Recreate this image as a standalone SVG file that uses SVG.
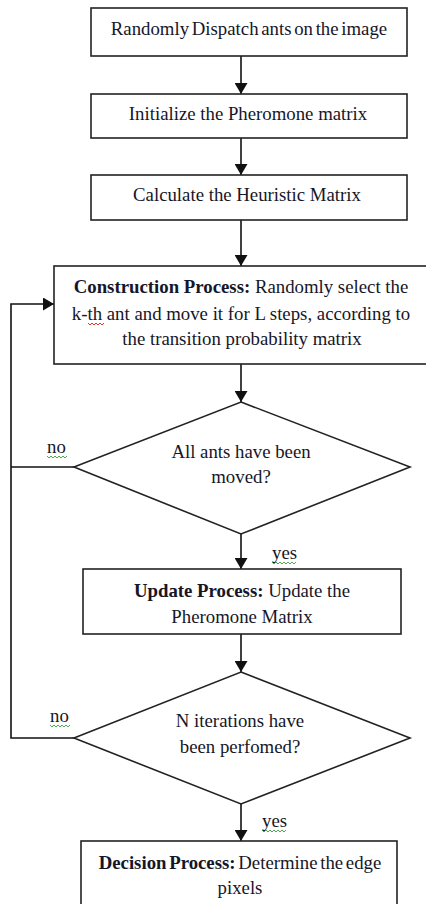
<svg xmlns="http://www.w3.org/2000/svg" width="426" height="904" viewBox="0 0 426 904">
<style>
.box{fill:#fff;stroke:#222;stroke-width:1.6}
.ln{fill:none;stroke:#111;stroke-width:1.6}
text{font-family:"Liberation Serif","Times New Roman",serif;font-size:18.8px;fill:#161628}
.c{text-anchor:middle}
.b{font-weight:bold}
.sq{fill:none;stroke-width:0.9}
.red{stroke:#e0201c}
.grn{stroke:#3aa03a}
</style>
<defs>
<marker id="ah" markerWidth="11" markerHeight="13" refX="11" refY="6.5" orient="auto" markerUnits="userSpaceOnUse">
<path d="M0,0 L11,6.5 L0,13 Z" fill="#111"/>
</marker>
</defs>
<rect width="426" height="904" fill="#fff"/>
<g id="connectors">
<line class="ln" x1="241" y1="56" x2="241" y2="94" marker-end="url(#ah)"/>
<line class="ln" x1="241" y1="138" x2="241" y2="175" marker-end="url(#ah)"/>
<line class="ln" x1="241" y1="220" x2="241" y2="266" marker-end="url(#ah)"/>
<line class="ln" x1="241" y1="364" x2="241" y2="402" marker-end="url(#ah)"/>
<line class="ln" x1="241" y1="534" x2="241" y2="569" marker-end="url(#ah)"/>
<line class="ln" x1="241" y1="634" x2="241" y2="672" marker-end="url(#ah)"/>
<line class="ln" x1="241" y1="804" x2="241" y2="841" marker-end="url(#ah)"/>
<polyline class="ln" points="74,467 11,467"/>
<polyline class="ln" points="74,738 11,738 11,304 54,304" marker-end="url(#ah)"/>
<text x="47" y="453">no</text>
<text x="50" y="722">no</text>
<text x="272" y="559">yes</text>
<text x="262" y="827">yes</text>
<path class="sq grn" d="M47,456 l2,2 l2,-2 l2,2 l2,-2 l2,2 l2,-2 l2,2 l2,-2 l2,2 l2,-2"/>
<path class="sq grn" d="M50,725 l2,2 l2,-2 l2,2 l2,-2 l2,2 l2,-2 l2,2 l2,-2 l2,2 l2,-2"/>
<path class="sq grn" d="M272,562 l2,2 l2,-2 l2,2 l2,-2 l2,2 l2,-2 l2,2 l2,-2 l2,2 l2,-2 l2,2 l2,-2"/>
<path class="sq grn" d="M262,830 l2,2 l2,-2 l2,2 l2,-2 l2,2 l2,-2 l2,2 l2,-2 l2,2 l2,-2 l2,2 l2,-2"/>
</g>
<g id="n1">
<rect class="box" x="91" y="8" width="316" height="48"/>
<text class="c" x="249" y="35" word-spacing="-2">Randomly Dispatch ants on the image</text>
</g>
<g id="n2">
<rect class="box" x="91" y="94" width="316" height="44"/>
<text class="c" x="248" y="120">Initialize the Pheromone matrix</text>
</g>
<g id="n3">
<rect class="box" x="91" y="175" width="316" height="45"/>
<text class="c" x="247" y="201">Calculate the Heuristic Matrix</text>
</g>
<g id="n4">
<rect class="box" x="54" y="266" width="376" height="98"/>
<text class="c" x="241" y="293"><tspan class="b">Construction Process:</tspan> Randomly select the</text>
<text class="c" x="241" y="320">k-th ant and move it for L steps, according to</text>
<text class="c" x="242" y="345">the transition probability matrix</text>
<path class="sq red" d="M88,323 l2,2 l2,-2 l2,2 l2,-2 l2,2 l2,-2 l2,2 l2,-2"/>
</g>
<g id="n5">
<polygon class="box" points="241,402 410,467 241,534 74,467"/>
<text class="c" x="241" y="458">All ants have been</text>
<text class="c" x="241" y="483">moved?</text>
</g>
<g id="n6">
<rect class="box" x="83" y="569" width="318" height="65"/>
<text class="c" x="242" y="597"><tspan class="b">Update Process:</tspan> Update the</text>
<text class="c" x="242" y="623">Pheromone Matrix</text>
</g>
<g id="n7">
<polygon class="box" points="241,672 410,738 241,804 74,738"/>
<text class="c" x="240" y="727">N iterations have</text>
<text class="c" x="240" y="753">been perfomed?</text>
</g>
<g id="n8">
<rect class="box" x="81" y="841" width="316" height="80"/>
<text class="c" x="240" y="869" word-spacing="-2"><tspan class="b">Decision Process:</tspan> Determine the edge</text>
<text class="c" x="240" y="894">pixels</text>
</g>
</svg>
